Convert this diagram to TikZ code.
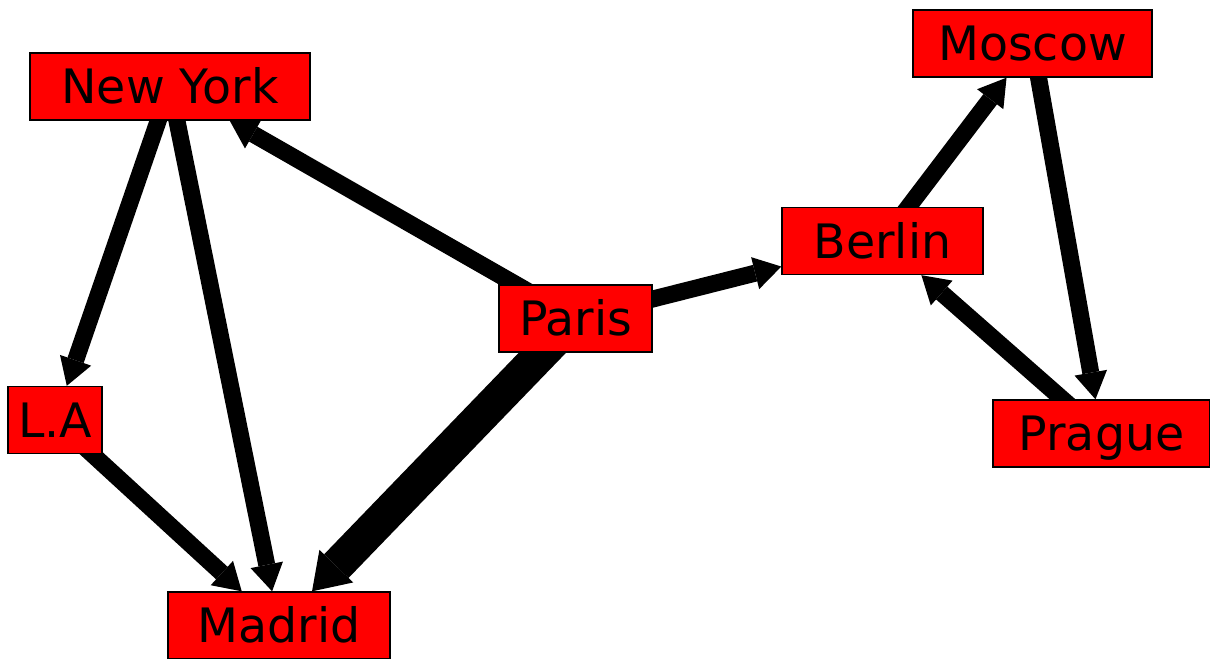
\documentclass[tikz,border=0pt]{standalone}
\usepackage{fontspec}
\setmainfont{DejaVu Sans}
\usetikzlibrary{arrows.meta, backgrounds}

\begin{document}
\begin{tikzpicture}[
  x=0.02cm, y=-0.02cm,
  city/.style={rectangle, draw, fill=red, line width=0.8pt, inner sep=0pt,
    minimum height=1.34cm, text height=19.6pt, text depth=0pt,
    font=\fontsize{27}{32}\selectfont},
  road/.style={-{Triangle[length=0.54cm, width=0.66cm, line width=0pt]}, line width=0.34cm},
  highway/.style={-{Triangle[length=0.7cm, width=0.94cm, line width=0pt]}, line width=0.68cm}
]
\useasboundingbox (0,0) rectangle (1210,659);

\node[city, minimum width=5.6cm] (newyork) at (170,86.5) {New York};
\node[city, minimum width=1.88cm] (la) at (55,420) {L.A};
\node[city, minimum width=4.44cm] (madrid) at (279,625.5) {Madrid};
\node[city, minimum width=3.06cm] (paris) at (575.5,318.5) {Paris};
\node[city, minimum width=4.02cm] (berlin) at (882.5,241) {Berlin};
\node[city, minimum width=4.78cm] (moscow) at (1032.5,43.5) {Moscow};
\node[city, minimum width=4.34cm] (prague) at (1101.5,433.5) {Prague};

\begin{scope}[on background layer]
\draw[road] (newyork.center) -- (la);
\draw[road] (newyork.center) -- (madrid);
\draw[road] (la.center) -- (madrid);
\draw[road] (paris.center) -- (newyork);
\draw[highway] (paris.center) -- (madrid);
\draw[road] (paris.center) -- (berlin);
\draw[road] (berlin.center) -- (moscow);
\draw[road] (moscow.center) -- (prague);
\draw[road] (prague.center) -- (berlin);
\end{scope}
\end{tikzpicture}
\end{document}
